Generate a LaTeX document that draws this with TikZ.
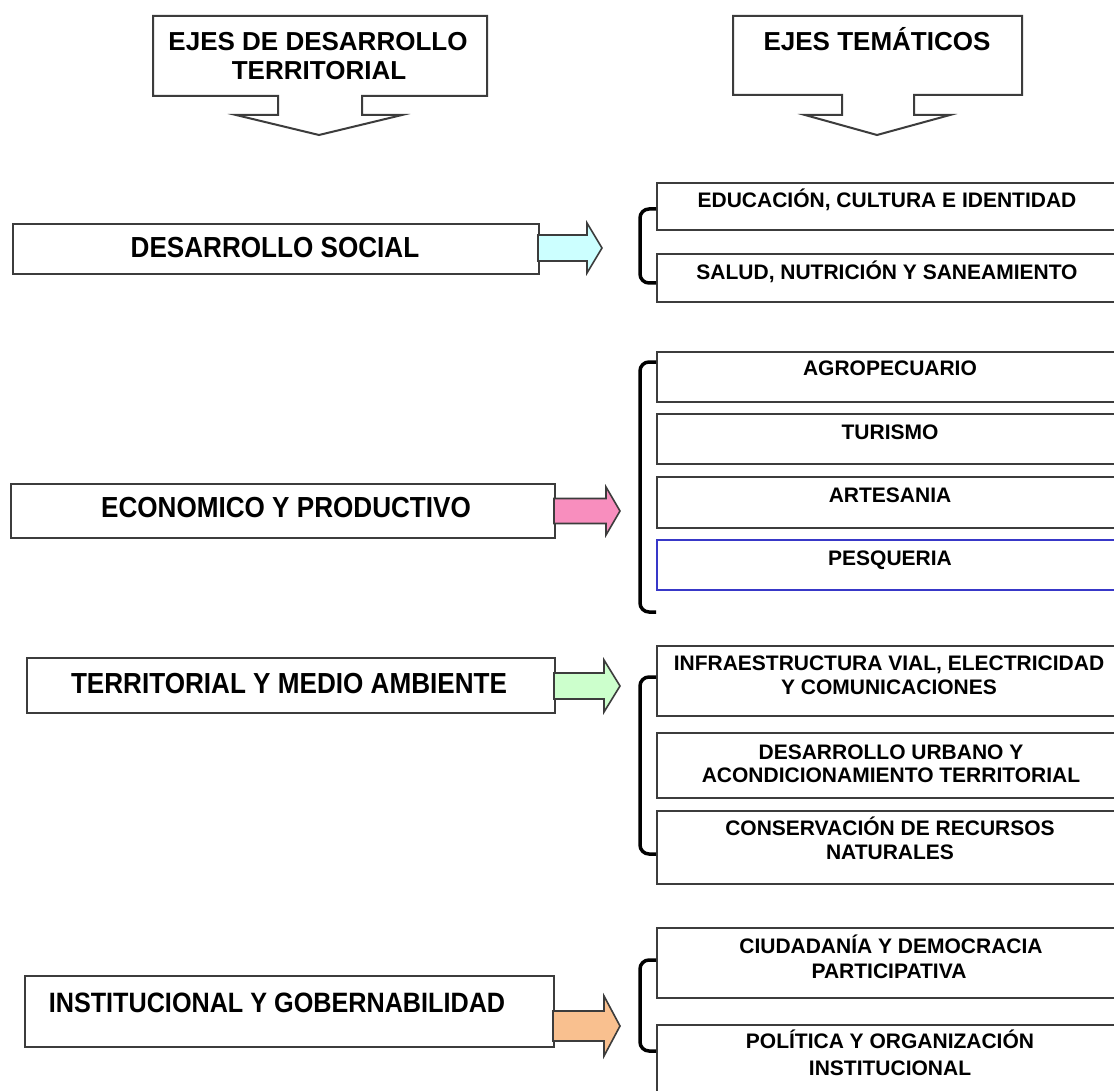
\documentclass[tikz,border=0pt]{standalone}
\usepackage{fontspec}
\setmainfont{Liberation Sans}
\newfontfamily\narrowsans[FakeStretch=0.9]{Liberation Sans}
\definecolor{linegray}{HTML}{3C3C3C}
\definecolor{cyanA}{HTML}{CCFFFF}
\definecolor{pinkA}{HTML}{F88EBE}
\definecolor{greenA}{HTML}{CCFFCC}
\definecolor{orangeA}{HTML}{F9C08F}
\definecolor{blueline}{HTML}{3838C8}
\newcommand\blockarr[7]{%
  \draw[arrowline, fill=#7] (#1,#4-#5) -- (#2,#4-#5) -- (#2,#4-#6) -- (#3,#4)
    -- (#2,#4+#6) -- (#2,#4+#5) -- (#1,#4+#5) -- cycle;}
\tikzset{
  edgeline/.style={draw=linegray, line width=2pt},
  lbox/.style={edgeline, fill=white, rectangle, inner sep=0pt, anchor=north west},
  rbox/.style={edgeline, rectangle, inner sep=0pt, anchor=north west, minimum width=480},
  arrowline/.style={draw=linegray, line width=1.6pt, line join=miter},
  brk/.style={draw=black, line width=3.5pt, rounded corners=9pt},
  calltext/.style={font=\bfseries\fontsize{26}{30}\selectfont, anchor=base, inner sep=0pt},
  ltext/.style={font=\narrowsans\bfseries\fontsize{29}{34}\selectfont, anchor=base, inner sep=0pt},
  rtext/.style={font=\bfseries\fontsize{21}{24}\selectfont, anchor=base, inner sep=0pt},
}
\begin{document}
\begin{tikzpicture}[x=1pt,y=-1pt]
\useasboundingbox (0,0) rectangle (1114,1091);
\clip (0,0) rectangle (1114,1091);
\fill[white] (0,0) rectangle (1114,1091);

% ---- top callouts
\draw[edgeline, line join=miter] (153,16) -- (487,16) -- (487,96) -- (362,96) -- (362,115) -- (402,115)
  -- (319,135) -- (236,115) -- (278,115) -- (278,96) -- (153,96) -- cycle;
\node[calltext] (ct1a) at (318,50.3) {EJES DE DESARROLLO};
\node[calltext] (ct1b) at (319,79.3) {TERRITORIAL};

\draw[edgeline, line join=miter] (733,16) -- (1022,16) -- (1022,95) -- (914,95) -- (914,115) -- (950,115)
  -- (877,135) -- (805,115) -- (842,115) -- (842,95) -- (733,95) -- cycle;
\node[calltext] (ct2) at (877,50.3) {EJES TEMÁTICOS};

% ---- left boxes
\node[lbox, minimum width=526, minimum height=50] (ds) at (12,223) {};
\node[ltext] (dst) at (275,257.4) {DESARROLLO SOCIAL};
\node[lbox, minimum width=544, minimum height=54] (ec) at (10,483) {};
\node[ltext] (ect) at (286,517.4) {ECONOMICO Y PRODUCTIVO};
\node[lbox, minimum width=528, minimum height=55] (te) at (26,657) {};
\node[ltext] (tet) at (289,693.4) {TERRITORIAL Y MEDIO AMBIENTE};
\node[lbox, minimum width=529, minimum height=71] (in) at (24,975) {};
\node[ltext, font=\narrowsans\bfseries\fontsize{28}{34}\selectfont] (int) at (277,1012) {INSTITUCIONAL Y GOBERNABILIDAD};

% ---- block arrows
\blockarr{538}{587}{602}{248}{13}{25}{cyanA}
\blockarr{554}{606}{620}{511}{12.5}{24}{pinkA}
\blockarr{554}{604}{620}{686}{13}{26}{greenA}
\blockarr{553}{604}{620}{1026}{15}{30}{orangeA}

% ---- right boxes
\node[rbox, minimum height=47] (edu) at (656,182) {};
\node[rtext] (edut) at (887,207.3) {EDUCACIÓN, CULTURA E IDENTIDAD};
\node[rbox, minimum height=48] (sal) at (656,253) {};
\node[rtext] (salt) at (887,279.3) {SALUD, NUTRICIÓN Y SANEAMIENTO};

\node[rbox, minimum height=50] (agr) at (656,351) {};
\node[rtext] (agrt) at (890,375.3) {AGROPECUARIO};
\node[rbox, minimum height=50] (tur) at (656,413) {};
\node[rtext] (turt) at (890,439.3) {TURISMO};
\node[rbox, minimum height=51] (art) at (656,476) {};
\node[rtext] (artt) at (890,502.3) {ARTESANIA};
\node[rbox, draw=blueline, line width=1.5pt, minimum height=50] (pes) at (656,539) {};
\node[rtext] (pest) at (890,565.3) {PESQUERIA};

\node[rbox, minimum height=70] (inf) at (656,645) {};
\node[rtext] (inft1) at (889,670.3) {INFRAESTRUCTURA VIAL, ELECTRICIDAD};
\node[rtext] (inft2) at (889,694.3) {Y COMUNICACIONES};
\node[rbox, minimum height=65] (urb) at (656,732) {};
\node[rtext] (urbt1) at (891,759.3) {DESARROLLO URBANO Y};
\node[rtext] (urbt2) at (891,782.3) {ACONDICIONAMIENTO TERRITORIAL};
\node[rbox, minimum height=73] (con) at (656,810) {};
\node[rtext] (cont1) at (890,835.3) {CONSERVACIÓN DE RECURSOS};
\node[rtext] (cont2) at (890,859.3) {NATURALES};

\node[rbox, minimum height=70] (ciu) at (656,927) {};
\node[rtext] (ciut1) at (891,953.3) {CIUDADANÍA Y DEMOCRACIA};
\node[rtext] (ciut2) at (889,978.3) {PARTICIPATIVA};
\node[rbox, minimum height=90] (pol) at (656,1024) {};
\node[rtext] (polt1) at (890,1048) {POLÍTICA Y ORGANIZACIÓN};
\node[rtext] (polt2) at (890,1075) {INSTITUCIONAL};

% ---- brackets
\draw[brk] (edu.north west |- 0,209) -- (640,209) -- (640,283) -- (sal.south west |- 0,283);
\draw[brk] (agr.north west |- 0,362) -- (640,362) -- (640,612) -- (pes.south west |- 0,612);
\draw[brk] (inf.north west |- 0,677) -- (640,677) -- (640,854) -- (con.south west |- 0,854);
\draw[brk] (ciu.north west |- 0,960) -- (640,960) -- (640,1051) -- (pol.south west |- 0,1051);
\end{tikzpicture}
\end{document}
